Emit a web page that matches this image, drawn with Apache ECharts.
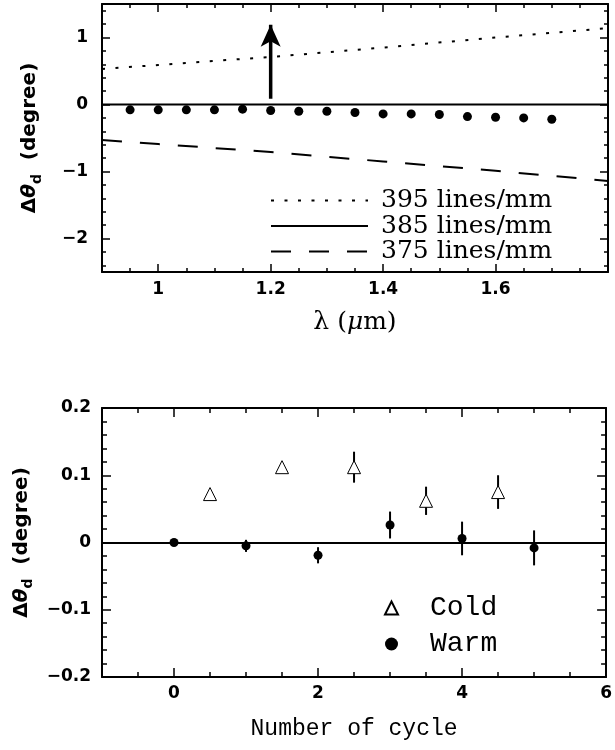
<!DOCTYPE html>
<html><head><meta charset="utf-8">
<script src="https://cdn.jsdelivr.net/npm/echarts@6/dist/echarts.min.js"></script>
<style>html,body{margin:0;padding:0;background:#fff}#c{width:615px;height:750px}</style>
</head><body><div id="c"></div>
<script>
// ---------- Top panel data ----------
const lambdaMeas = [0.95,1.00,1.05,1.10,1.15,1.20,1.25,1.30,1.35,1.40,1.45,1.50,1.55,1.60,1.65,1.70];
const dThetaMeas = [-0.08,-0.08,-0.08,-0.08,-0.07,-0.09,-0.10,-0.10,-0.12,-0.14,-0.14,-0.15,-0.18,-0.19,-0.20,-0.22];
const lambdaLine = [0.90,1.00,1.20,1.40,1.60,1.80];
const line395 = [0.53,0.59,0.71,0.85,1.00,1.14];
const line385 = [0,0,0,0,0,0];
const line375 = [-0.53,-0.59,-0.71,-0.85,-0.99,-1.14];
const arrowX = [1.2,1.2];
const arrowY = [0.085,1.19];
const topXTicks = [1,1.2,1.4,1.6];
const topYTicks = [-2,-1,0,1];
// ---------- Bottom panel data ----------
const coldX = [0.5,1.5,2.5,3.5,4.5];
const coldY = [0.072,0.112,0.112,0.062,0.075];
const coldErr = [0.006,0.006,0.023,0.021,0.025];
const warmX = [0,1,2,3,4,5];
const warmY = [0,-0.005,-0.019,0.026,0.006,-0.008];
const warmErr = [0.001,0.009,0.012,0.020,0.025,0.026];
const botXTicks = [0,2,4,6];
const botYTicks = [-0.2,-0.1,0,0.1,0.2];

function range(a,b,s){const r=[];for(let v=a;v<=b+1e-9;v+=s)r.push(Math.round(v*10000)/10000);return r;}
function fmt(v){const a=Math.round(Math.abs(v)*1000)/1000;return v<-1e-9?'\u2212'+a:String(a);}
const TICKFONT={fontFamily:'DejaVu Sans',fontWeight:'bold',fontSize:17,color:'#000'};
const BLACK='#000';

function tick(vals,len){return {show:true,inside:true,customValues:vals,length:len,lineStyle:{color:BLACK,width:1.5}};}
const LINE={show:true,onZero:false,lineStyle:{color:BLACK,width:2}};
const NOLINE={show:false,onZero:false};
function xAxes(g,min,max,major,minor,name,nameStyle,nameGap,margin,majLen,minLen){
  const base={type:'value',gridIndex:g,min:min,max:max,splitLine:{show:false}};
  return [
    Object.assign({},base,{position:'bottom',axisLine:LINE,axisTick:tick(major,majLen),
      axisLabel:Object.assign({show:true,customValues:major,formatter:fmt,margin:margin},TICKFONT),
      name:name,nameLocation:'middle',nameGap:nameGap,nameTextStyle:nameStyle}),
    Object.assign({},base,{position:'bottom',axisLine:NOLINE,axisTick:tick(minor,minLen),axisLabel:{show:false}}),
    Object.assign({},base,{position:'top',axisLine:LINE,axisTick:tick(major,majLen),axisLabel:{show:false}}),
    Object.assign({},base,{position:'top',axisLine:NOLINE,axisTick:tick(minor,minLen),axisLabel:{show:false}})
  ];
}
function yAxes(g,min,max,major,minor,name,nameStyle,nameGap,margin,majLen,minLen){
  const base={type:'value',gridIndex:g,min:min,max:max,splitLine:{show:false}};
  return [
    Object.assign({},base,{position:'left',axisLine:LINE,axisTick:tick(major,majLen),
      axisLabel:Object.assign({show:true,customValues:major,formatter:fmt,margin:margin},TICKFONT),
      name:name,nameLocation:'middle',nameGap:nameGap,nameRotate:90,nameTextStyle:nameStyle}),
    Object.assign({},base,{position:'left',axisLine:NOLINE,axisTick:tick(minor,minLen),axisLabel:{show:false}}),
    Object.assign({},base,{position:'right',axisLine:LINE,axisTick:tick(major,majLen),axisLabel:{show:false}}),
    Object.assign({},base,{position:'right',axisLine:NOLINE,axisTick:tick(minor,minLen),axisLabel:{show:false}})
  ];
}
const yNameStyle={
  fontFamily:'DejaVu Sans',fontWeight:'bold',fontSize:20,color:BLACK,
  rich:{
    d:{fontFamily:'DejaVu Sans',fontWeight:'bold',fontSize:20,color:BLACK},
    t:{fontFamily:'DejaVu Sans',fontWeight:'bold',fontStyle:'italic',fontSize:20,color:BLACK},
    s:{fontFamily:'DejaVu Sans',fontWeight:'bold',fontSize:14,color:BLACK,padding:[14,0,0,0]},
    n:{fontFamily:'DejaVu Sans',fontWeight:'bold',fontSize:20,color:BLACK}
  }
};
const yName='{d|\u0394}{t|\u03b8}{s|d}{n|  (degree)}';
const lamStyle={fontFamily:'DejaVu Serif',fontSize:25,color:BLACK,
  rich:{n:{fontFamily:'DejaVu Serif',fontSize:25,color:BLACK},i:{fontFamily:'DejaVu Serif',fontStyle:'italic',fontSize:25,color:BLACK}}};
const cycStyle={fontFamily:'Liberation Mono',fontSize:23,color:BLACK};

const zip=(a,b)=>a.map((v,i)=>[v,b[i]]);
const errData=(x,y,e)=>x.map((v,i)=>[v,y[i],e[i]]);
function errBar(params,api){
  const x=api.value(0),y=api.value(1),e=api.value(2);
  const p1=api.coord([x,y-e]),p2=api.coord([x,y+e]);
  return {type:'line',shape:{x1:p1[0],y1:p1[1],x2:p2[0],y2:p2[1]},style:{stroke:BLACK,lineWidth:2}};
}

const chart=echarts.init(document.getElementById('c'),null,{renderer:'canvas'});
chart.setOption({
  animation:false,
  backgroundColor:'#fff',
  grid:[{left:102,top:4,width:506,height:268},{left:102,top:408,width:506,height:269}],
  xAxis:[].concat(
    xAxes(0,0.9,1.8,topXTicks,range(0.9,1.8,0.05),'{n|\u03bb (}{i|\u03bc}{n|m)}',lamStyle,38,9,8,4),
    xAxes(1,-1,6,botXTicks,range(-1,6,0.5),'Number of cycle',cycStyle,40,8,9,5)
  ),
  yAxis:[].concat(
    yAxes(0,-2.5,1.5,topYTicks,range(-2.4,1.4,0.2),yName,yNameStyle,58,14,8,4),
    yAxes(1,-0.2,0.2,botYTicks,range(-0.2,0.2,0.02),yName,yNameStyle,53,11,9,5)
  ),
  legend:[
    {data:['395 lines/mm','385 lines/mm','375 lines/mm'],orient:'vertical',left:265,top:183,
     itemWidth:97,itemHeight:14,itemGap:0.5,selectedMode:false,itemStyle:{opacity:0},
     textStyle:{fontFamily:'DejaVu Serif',fontSize:25,color:BLACK,lineHeight:24,padding:[0,0,0,8]}},
    {data:['Cold','Warm'],orient:'vertical',left:379,top:586,
     itemWidth:13,itemHeight:13,itemGap:2,selectedMode:false,
     textStyle:{fontFamily:'Liberation Mono',fontSize:28,color:BLACK,lineHeight:34,padding:[0,0,0,27]}}
  ],
  series:[
    {name:'395 lines/mm',type:'line',xAxisIndex:0,yAxisIndex:0,data:zip(lambdaLine,line395),symbol:'none',
     lineStyle:{color:BLACK,width:2,type:[3,10.5]},itemStyle:{color:BLACK}},
    {name:'385 lines/mm',type:'line',xAxisIndex:0,yAxisIndex:0,data:zip(lambdaLine,line385),symbol:'none',
     lineStyle:{color:BLACK,width:2,type:'solid'},itemStyle:{color:BLACK}},
    {name:'375 lines/mm',type:'line',xAxisIndex:0,yAxisIndex:0,data:zip(lambdaLine,line375),symbol:'none',
     lineStyle:{color:BLACK,width:2,type:[20,18]},itemStyle:{color:BLACK}},
    {name:'meas',type:'scatter',xAxisIndex:0,yAxisIndex:0,data:zip(lambdaMeas,dThetaMeas),symbol:'circle',symbolSize:9,
     itemStyle:{color:BLACK,opacity:1}},
    {name:'arrow',type:'line',xAxisIndex:0,yAxisIndex:0,
     data:[{value:[arrowX[0],arrowY[0]],symbol:'none'},{value:[arrowX[1],arrowY[1]],symbol:'arrow',symbolSize:[15,22],symbolOffset:[0,0]}],
     lineStyle:{color:BLACK,width:3.5},itemStyle:{color:BLACK,opacity:1},showSymbol:true},
    {name:'zero',type:'line',xAxisIndex:4,yAxisIndex:4,data:[],symbol:'none',
     markLine:{silent:true,symbol:'none',label:{show:false},lineStyle:{color:BLACK,width:2,type:'solid'},data:[{yAxis:0}]}},
    {name:'coldErr',type:'custom',xAxisIndex:4,yAxisIndex:4,renderItem:errBar,data:errData(coldX,coldY,coldErr),z:1},
    {name:'warmErr',type:'custom',xAxisIndex:4,yAxisIndex:4,renderItem:errBar,data:errData(warmX,warmY,warmErr),z:1},
    {name:'Cold',type:'scatter',xAxisIndex:4,yAxisIndex:4,data:zip(coldX,coldY),symbol:'triangle',symbolSize:13,
     itemStyle:{color:'#fff',borderColor:BLACK,borderWidth:1,opacity:1},z:3},
    {name:'Warm',type:'scatter',xAxisIndex:4,yAxisIndex:4,data:zip(warmX,warmY),symbol:'circle',symbolSize:9,
     itemStyle:{color:BLACK,opacity:1},z:3}
  ]
});
</script></body></html>
